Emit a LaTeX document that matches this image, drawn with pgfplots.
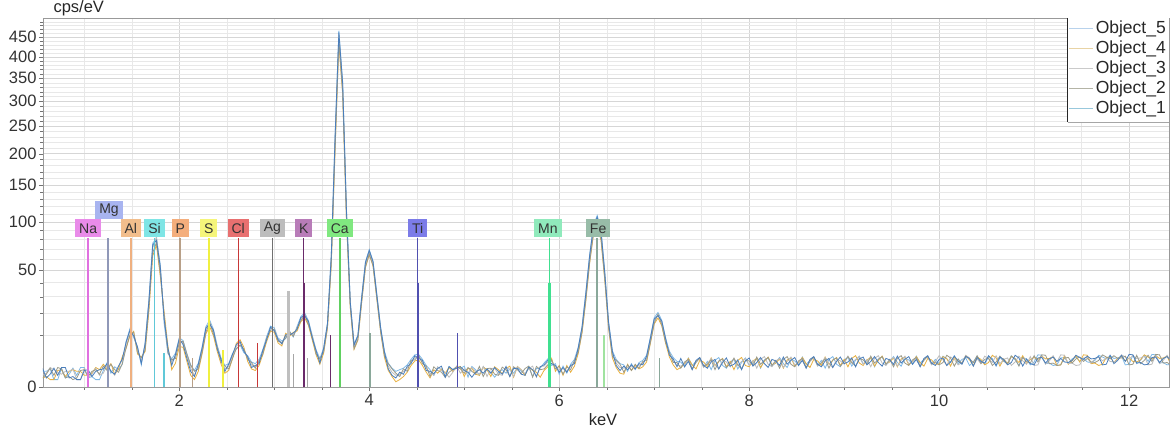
\documentclass[border=0pt]{standalone}
\usepackage{fontspec}
\setmainfont{Liberation Sans}
\usepackage{pgfplots}
\usepackage{pgfplotstable}
\pgfplotsset{compat=1.18}

\definecolor{cO1}{HTML}{4A7EBB}
\definecolor{cO2}{HTML}{9A9A8A}
\definecolor{cO3}{HTML}{BDBDBD}
\definecolor{cO4}{HTML}{E8B040}
\definecolor{cO5}{HTML}{7FB8E6}
\definecolor{lO1}{HTML}{98C8DC}
\definecolor{lO2}{HTML}{B4B4A6}
\definecolor{lO3}{HTML}{CACACA}
\definecolor{lO4}{HTML}{E8D3A4}
\definecolor{lO5}{HTML}{B8D2EC}

\definecolor{naF}{HTML}{E98BE9}\definecolor{naL}{HTML}{E070E0}
\definecolor{mgF}{HTML}{A8B4F0}\definecolor{mgL}{HTML}{9098B8}
\definecolor{alF}{HTML}{F2BE8C}\definecolor{alL}{HTML}{EFB080}
\definecolor{siF}{HTML}{7FE5E5}\definecolor{siL}{HTML}{60C8D8}
\definecolor{pF}{HTML}{F4AE7C}\definecolor{pL}{HTML}{B8A088}
\definecolor{sF}{HTML}{F5F57A}\definecolor{sL}{HTML}{F0F040}
\definecolor{clF}{HTML}{E87070}\definecolor{clL}{HTML}{C83838}
\definecolor{agF}{HTML}{BDBDBD}\definecolor{agL}{HTML}{707070}
\definecolor{kF}{HTML}{B87CB8}\definecolor{kL}{HTML}{6A2A6A}
\definecolor{caF}{HTML}{80E880}\definecolor{caL}{HTML}{60D060}
\definecolor{tiF}{HTML}{7C7CE8}\definecolor{tiL}{HTML}{5050B0}
\definecolor{mnF}{HTML}{90EABC}\definecolor{mnL}{HTML}{40E090}
\definecolor{feF}{HTML}{98BCA8}\definecolor{feL}{HTML}{8AA89A}

\tikzset{lbl/.style={anchor=south, inner xsep=4pt, inner ysep=0pt, minimum height=18pt,
    font=\fontsize{14}{14}\selectfont, text=black!80}}

\pgfplotstableread{
x o1 o2 o3 o4 o5
0.56 1.3 0.3 0.5 0.3 0.9
0.60 0.3 0.6 0.7 0.4 0.9
0.64 0.6 1.3 1.4 0.2 1.2
0.68 1.3 0.5 1.1 0.2 0.2
0.72 0.5 1.4 0.8 1.0 0.2
0.76 1.4 1.2 0.6 1.1 1.3
0.80 1.4 0.3 0.9 0.4 0.3
0.84 0.3 0.4 0.9 0.9 0.6
0.88 0.4 0.2 1.2 1.1 1.3
0.92 0.2 0.3 0.2 0.9 0.5
0.96 0.2 1.0 0.2 0.9 1.4
1.00 1.0 1.1 1.3 0.5 1.4
1.04 1.1 0.4 0.3 0.5 0.3
1.08 0.4 0.9 0.6 0.7 0.4
1.12 0.9 1.1 1.3 1.4 0.2
1.16 1.1 0.6 0.5 1.1 0.2
1.20 1.2 1.6 0.7 1.9 1.0
1.24 2.0 1.0 1.8 1.2 2.2
1.28 0.9 1.9 1.0 2.0 0.7
1.32 0.6 1.1 0.5 0.6 1.5
1.36 1.6 0.8 1.6 1.2 1.1
1.40 2.9 2.0 2.6 3.4 1.9
1.44 7.4 5.6 6.8 5.5 7.6
1.48 11.8 10.0 11.4 9.6 12.5
1.52 9.6 11.0 9.4 11.4 9.0
1.56 5.8 4.4 5.4 4.0 6.0
1.60 2.0 3.1 2.4 3.3 1.8
1.64 6.8 5.0 6.3 4.6 7.3
1.68 27 23 26 21 28
1.72 74 66 71 63 76
1.76 79 77 83 74 81
1.80 53 47 51 45 55
1.84 17 19 18 21 15
1.88 5.6 4.4 5.2 6.2 4.1
1.92 1.7 2.7 2.3 1.1 2.9
1.96 3.9 3.0 3.6 2.1 4.2
2.00 8.6 7.2 8.1 6.0 8.9
2.04 6.6 7.7 7.2 5.8 7.9
2.08 3.0 4.0 3.6 2.4 4.1
2.12 0.9 1.7 1.3 0.5 1.8
2.16 0.4 0.9 0.5 0.2 1.0
2.20 1.9 1.2 1.6 0.9 2.1
2.24 5.5 4.4 5.1 4.0 5.9
2.28 12.8 11.0 12.2 10.4 13.4
2.32 14.6 15.2 15.5 13.4 16.4
2.36 11.8 10.2 11.2 9.6 12.2
2.40 5.2 5.8 5.6 4.6 6.3
2.44 2.8 2.2 2.6 1.9 3.1
2.48 0.9 1.6 1.2 0.7 1.7
2.52 1.9 1.2 1.6 1.0 2.0
2.56 3.9 3.0 3.6 2.9 4.1
2.60 6.6 5.4 6.1 7.0 5.3
2.64 7.6 6.4 7.2 8.2 6.5
2.68 4.7 5.3 5.1 5.8 4.3
2.72 3.4 2.8 3.1 2.4 3.6
2.76 1.4 2.2 1.8 1.2 2.3
2.80 1.7 1.3 1.5 1.0 2.0
2.84 2.0 2.5 2.3 1.7 2.8
2.88 5.0 4.0 4.6 3.9 5.2
2.92 8.2 8.8 8.6 7.6 9.4
2.96 13.2 11.8 12.6 11.5 13.6
3.00 11.6 12.3 12.1 11.0 12.9
3.04 8.3 7.6 8.1 7.1 8.8
3.08 6.8 7.3 7.1 6.2 7.8
3.12 10.0 8.8 9.6 10.6 8.6
3.16 10.0 11.3 10.6 9.4 11.5
3.20 10.7 9.4 10.1 11.0 9.2
3.24 12.2 12.8 12.6 11.5 13.5
3.28 17.8 16.1 17.1 15.7 18.2
3.32 18.7 19.2 19.4 17.6 20.2
3.36 15.8 14.2 15.1 13.9 16.1
3.40 8.7 9.3 9.2 8.1 9.8
3.44 4.9 4.0 4.6 3.8 5.1
3.48 2.1 2.9 2.5 1.9 3.0
3.52 5.5 4.5 5.1 4.2 5.6
3.56 14.8 13.1 14.2 12.7 15.1
3.60 63 56 60 55 64
3.64 228 208 221 204 232
3.68 462 440 455 432 466
3.72 338 318 331 315 342
3.76 114 104 110 102 117
3.80 26.5 23.8 25.2 23.2 27
3.84 6.5 5.4 6.1 5.2 6.8
3.88 9.6 8.3 9.1 8.0 9.9
3.92 29.3 26.6 28.1 26.2 30.0
3.96 56.8 53.0 55.3 52.4 57.8
4.00 68.5 65.0 67.3 64.4 69.2
4.04 57.5 54.1 56.2 53.6 58.2
4.08 31.0 28.8 30.1 28.2 31.8
4.12 12.8 11.2 12.1 11.0 13.1
4.16 4.5 3.5 4.1 3.2 4.7
4.20 1.2 2.0 1.6 1.0 2.1
4.24 0.5 1.2 0.8 0.4 1.3
4.28 0.3 0.7 0.5 0.1 0.9
4.32 0.8 0.4 0.6 0.2 1.1
4.36 0.6 1.2 0.9 0.4 1.3
4.40 1.6 0.9 1.3 0.8 1.8
4.44 2.0 2.6 2.3 1.7 2.8
4.48 3.6 2.7 3.2 2.5 3.8
4.52 3.0 3.7 3.4 2.7 3.9
4.56 2.6 2.0 2.3 1.7 2.8
4.60 1.0 1.6 1.3 0.8 1.7
4.64 0.9 0.4 0.7 0.3 1.1
4.68 0.65 1.5 0.5 1.1 0.5
4.72 1.25 1.0 1.5 0.7 1.45
4.76 1.6 0.8 1.0 1.2 1.1
4.80 0.35 0.35 0.8 0.7 0.4
4.84 1.55 0.8 0.35 1.4 1.5
4.88 1.1 1.1 0.8 0.9 1.1
4.92 1.3 1.5 1.6 1.4 1.5
4.96 1.5 1.2 0.7 1.55 1.25
5.00 1.0 0.7 1.2 0.4 1.6
5.04 0.8 1.4 0.7 1.25 0.35
5.08 0.35 0.9 1.4 1.3 1.55
5.12 0.8 0.6 0.9 0.6 1.1
5.16 1.1 1.55 0.6 0.5 0.5
5.20 0.7 0.4 1.55 1.45 1.5
5.24 1.2 1.25 0.4 1.1 1.0
5.28 0.7 1.3 1.25 0.4 0.8
5.32 1.4 0.6 1.3 1.5 0.35
5.36 0.9 0.5 0.6 1.1 0.8
5.40 0.6 1.45 0.5 0.65 1.1
5.44 1.55 1.1 1.45 1.25 0.7
5.48 0.4 0.4 1.1 1.6 1.2
5.52 1.25 1.5 0.4 0.35 0.7
5.56 1.3 1.1 1.5 1.55 1.4
5.60 0.6 0.65 1.1 1.1 0.9
5.64 0.5 1.25 0.65 0.5 0.6
5.68 1.45 1.6 1.25 1.5 1.55
5.72 1.1 0.35 1.6 1.0 0.4
5.76 0.4 1.55 0.35 0.8 1.25
5.80 1.5 1.1 1.55 0.35 1.3
5.84 1.8 1.2 1.6 1.0 2.1
5.88 2.6 1.8 2.3 1.5 2.9
5.92 2.0 2.7 2.4 3.0 1.7
5.96 1.7 1.2 1.5 0.9 2.0
6.00 0.8 1.6 1.1 1.7 0.6
6.04 1.4 0.6 1.2 0.5 1.6
6.08 0.8 1.5 1.0 1.7 0.7
6.12 1.7 1.1 1.5 0.8 1.9
6.16 2.0 2.6 2.3 1.6 2.8
6.20 5.6 4.4 5.1 4.1 5.8
6.24 13.0 11.1 12.2 10.7 13.4
6.28 32 28 30.5 27 33
6.32 63 57 60 56 64
6.36 94 86 91 85 96
6.40 106 97 102 95 108
6.44 89 81 86 79 91
6.48 47.5 42.5 45.5 41.5 48.5
6.52 15.2 13.0 14.2 12.6 15.6
6.56 4.6 3.4 4.1 3.1 4.8
6.60 1.7 2.6 2.1 1.4 2.8
6.64 1.0 1.9 1.4 0.7 2.0
6.68 1.6 0.8 1.3 0.6 1.8
6.72 1.1 1.8 1.4 1.9 0.9
6.76 1.8 1.0 1.5 1.0 2.0
6.80 1.2 1.9 1.4 1.7 1.1
6.84 2.0 1.3 1.7 1.2 2.2
6.88 1.8 2.4 2.1 1.5 2.6
6.92 3.5 2.6 3.1 2.3 3.7
6.96 8.8 7.3 8.1 7.0 9.1
7.00 17.0 15.0 16.2 14.6 17.6
7.04 18.7 19.5 19.2 17.5 20.4
7.08 15.9 14.1 15.1 13.7 16.3
7.12 8.6 7.3 8.0 7.0 8.9
7.16 3.7 4.4 4.1 3.3 4.7
7.20 2.9 2.2 2.5 1.8 3.2
7.24 1.5 2.2 1.8 1.1 2.4
7.28 3.0 1.3 1.6 1.4 2.3
7.32 1.5 2.3 1.9 2.0 1.5
7.36 2.4 2.8 2.7 3.0 3.1
7.40 1.1 1.2 1.1 1.8 1.7
7.44 2.6 2.2 2.5 1.2 2.4
7.48 3.2 3.1 2.9 2.6 3.0
7.52 1.7 1.6 1.4 2.3 1.5
7.56 1.3 1.9 2.0 1.5 2.4
7.60 2.3 2.7 3.0 3.1 1.1
7.64 2.8 1.1 1.8 1.7 2.6
7.68 1.2 2.5 1.2 2.4 3.2
7.72 2.2 2.9 2.6 3.0 1.7
7.76 3.1 1.4 2.3 1.5 1.3
7.80 1.6 2.0 1.5 2.4 2.3
7.84 1.9 3.0 3.1 1.1 2.8
7.88 2.7 1.8 1.7 2.6 1.2
7.92 1.1 1.2 2.4 3.2 2.2
7.96 2.5 2.6 3.0 1.7 3.1
8.00 3.1 2.5 1.7 1.5 1.8
8.04 1.6 1.7 2.6 2.5 2.1
8.08 2.2 3.3 1.3 3.0 2.9
8.12 3.2 1.9 2.8 1.4 1.3
8.16 2.0 2.6 3.4 2.4 2.7
8.20 1.4 3.2 1.9 3.3 3.1
8.24 2.8 1.7 1.5 1.8 1.6
8.28 2.5 2.6 2.5 2.1 2.2
8.32 1.7 1.3 3.0 2.9 3.2
8.36 3.3 2.8 1.4 1.3 2.0
8.40 1.9 3.4 2.4 2.7 1.4
8.44 2.6 1.9 3.3 3.1 2.8
8.48 3.2 1.5 1.8 1.6 2.5
8.52 1.7 2.5 2.1 2.2 1.7
8.56 2.6 3.0 2.9 3.2 3.3
8.60 1.3 1.4 1.3 2.0 1.9
8.64 2.8 2.4 2.7 1.4 2.6
8.68 3.4 3.3 3.1 2.8 3.2
8.72 1.9 1.8 1.6 2.5 1.7
8.76 1.5 2.1 2.2 1.7 2.6
8.80 2.5 2.9 3.2 3.3 1.3
8.84 3.0 1.3 2.0 1.9 2.8
8.88 1.4 2.7 1.4 2.6 3.4
8.92 2.4 3.1 2.8 3.2 1.9
8.96 3.3 1.6 2.5 1.7 1.5
9.00 2.0 2.4 1.9 2.8 2.7
9.04 2.3 3.4 3.5 1.5 3.2
9.08 3.1 2.2 2.1 3.0 1.6
9.12 1.5 1.6 2.8 3.6 2.6
9.16 2.9 3.0 3.4 2.1 3.5
9.20 3.3 2.7 1.9 1.7 2.0
9.24 1.8 1.9 2.8 2.7 2.3
9.28 2.4 3.5 1.5 3.2 3.1
9.32 3.4 2.1 3.0 1.6 1.5
9.36 2.2 2.8 3.6 2.6 2.9
9.40 1.6 3.4 2.1 3.5 3.3
9.44 3.0 1.9 1.7 2.0 1.8
9.48 2.7 2.8 2.7 2.3 2.4
9.52 1.9 1.5 3.2 3.1 3.4
9.56 3.5 3.0 1.6 1.5 2.2
9.60 2.1 3.6 2.6 2.9 1.6
9.64 2.8 2.1 3.5 3.3 3.0
9.68 3.4 1.7 2.0 1.8 2.7
9.72 1.9 2.7 2.3 2.4 1.9
9.76 2.8 3.2 3.1 3.4 3.5
9.80 1.5 1.6 1.5 2.2 2.1
9.84 3.0 2.6 2.9 1.6 2.8
9.88 3.6 3.5 3.3 3.0 3.4
9.92 2.1 2.0 1.8 2.7 1.9
9.96 1.7 2.3 2.4 1.9 2.8
10.00 2.8 1.8 3.6 1.9 2.0
10.04 3.1 2.2 2.7 3.4 3.5
10.08 1.7 3.7 1.7 3.0 2.9
10.12 2.3 3.1 3.3 1.6 2.2
10.16 3.5 1.6 2.8 3.2 3.6
10.20 2.5 2.9 1.8 2.4 2.0
10.24 1.9 2.0 2.2 2.1 2.8
10.28 3.4 3.5 3.7 3.6 3.1
10.32 3.0 2.9 3.1 2.7 1.7
10.36 1.6 2.2 1.6 1.7 2.3
10.40 3.2 3.6 2.9 3.3 3.5
10.44 2.4 2.0 2.0 2.8 2.5
10.48 2.1 2.8 3.5 1.8 1.9
10.52 3.6 3.1 2.9 2.2 3.4
10.56 2.7 1.7 2.2 3.7 3.0
10.60 1.7 2.3 3.6 3.1 1.6
10.64 3.3 3.5 2.0 1.6 3.2
10.68 2.8 2.5 2.8 2.9 2.4
10.72 1.8 1.9 3.1 2.0 2.1
10.76 2.2 3.4 1.7 3.5 3.6
10.80 3.7 3.0 2.3 2.9 2.7
10.84 3.1 1.6 3.5 2.2 1.7
10.88 1.6 3.2 2.5 3.6 3.3
10.92 2.9 2.4 1.9 2.0 2.8
10.96 2.0 2.1 3.4 2.8 1.8
11.00 1.8 3.6 1.7 3.2 2.3
11.04 3.1 2.3 1.8 2.8 3.8
11.08 3.2 3.8 3.6 3.5 3.7
11.12 2.1 3.7 1.9 2.9 2.0
11.16 2.9 2.0 2.5 3.0 2.1
11.20 3.3 2.1 3.6 3.4 1.7
11.24 2.4 1.7 2.3 1.7 1.8
11.28 3.0 1.8 3.8 1.8 3.1
11.32 2.3 3.1 3.7 3.6 3.2
11.36 2.2 3.2 2.0 1.9 2.1
11.40 2.6 2.1 2.1 2.5 2.9
11.44 3.7 2.9 1.7 3.6 3.3
11.48 3.2 3.3 1.8 2.3 2.4
11.52 2.8 2.4 3.1 3.8 3.0
11.56 3.5 3.0 3.2 3.7 2.3
11.60 2.9 2.3 2.1 2.0 2.2
11.64 3.0 2.2 2.9 2.1 2.6
11.68 3.4 2.6 3.3 1.7 3.7
11.72 1.8 3.8 2.5 1.9 3.3
11.76 1.9 3.3 3.1 3.2 2.9
11.80 3.7 2.9 2.4 3.3 3.6
11.84 2.0 3.6 2.3 2.2 3.0
11.88 2.6 3.0 2.7 3.0 3.1
11.92 3.7 3.1 3.8 3.4 3.5
11.96 2.4 3.5 3.3 2.5 1.8
12.00 3.9 1.8 2.9 3.1 1.9
12.04 3.8 1.9 3.6 2.4 3.7
12.08 2.1 3.7 3.0 2.3 2.0
12.12 2.2 2.0 3.1 2.7 2.6
12.16 1.8 2.6 3.5 3.8 3.7
12.20 1.9 3.7 1.8 3.3 2.4
12.24 3.2 2.4 1.9 2.9 3.9
12.28 3.3 3.9 3.7 3.6 3.8
12.32 2.2 3.8 2.0 3.0 2.1
12.36 3.0 2.1 2.6 3.1 2.2
12.40 3.4 2.2 3.7 3.5 1.8
12.44 2.5 1.8 2.4 1.8 1.9
}\spec

\begin{document}
\begin{tikzpicture}
\begin{axis}[
  at={(0pt,0pt)}, anchor=south west,
  scale only axis, width=1126pt, height=369pt,
  xmin=0.565, xmax=12.42, ymin=0, ymax=500,
  y coord trafo/.code={\pgfmathparse{sqrt(#1)}},
  y coord inv trafo/.code={\pgfmathparse{(#1)^2}},
  ytick={0,50,100,150,200,250,300,350,400,450},
  yticklabels={0,50,100,150,200,250,300,350,400,450},
  minor ytick={10,20,...,490},
  xtick={2,4,6,8,10,12},
  xticklabels={2,4,6,8,10,12},
  minor xtick={0.5,1,...,12.5},
  grid=both,
  major grid style={color=black!16},
  minor grid style={color=black!9},
  tick align=outside, tick pos=left,
  major tick length=4pt, minor tick length=2.5pt,
  tick style={color=black!55},
  axis line style={color=black!40},
  ticklabel style={font=\fontsize{16.5}{18}\selectfont, text=black!80},
  yticklabel style={xshift=1pt},
  /pgf/number format/assume math mode=true,
  legend style={at={(1,1)}, anchor=north east, draw=none, fill=none,
    font=\fontsize{17.5}{18}\selectfont, text=black!85, row sep=1.8pt,
    inner xsep=1pt, inner ysep=1pt, cells={anchor=west}},
  legend image code/.code={\draw[#1] (-2pt,0pt) -- (22pt,0pt);},
]
% legend box
\fill[white] (rel axis cs:0.9103,0.718) rectangle (rel axis cs:1,1);
\draw[black!85, line width=1pt] (rel axis cs:0.9103,0.718) -- (rel axis cs:0.9103,1);
\draw[black!35] (rel axis cs:0.9103,0.718) -- (rel axis cs:1,0.718);

% spectra
\addplot[forget plot, cO5, line width=0.8pt] table[x=x,y=o5]{\spec};
\addplot[forget plot, cO4, line width=0.8pt] table[x=x,y=o4]{\spec};
\addplot[forget plot, cO3, line width=0.8pt] table[x=x,y=o3]{\spec};
\addplot[forget plot, cO2, line width=0.8pt] table[x=x,y=o2]{\spec};
\addplot[forget plot, cO1, line width=0.8pt] table[x=x,y=o1]{\spec};

% secondary lines
\addplot[forget plot, siL, line width=1.5pt] coordinates {(1.84,0) (1.84,4.2)};
\addplot[forget plot, pL, line width=1.5pt] coordinates {(2.14,0) (2.14,3)};
\addplot[forget plot, sL, line width=1.5pt] coordinates {(2.46,0) (2.46,5)};
\addplot[forget plot, clL, line width=1pt] coordinates {(2.82,0) (2.82,7)};
\addplot[forget plot, black!25, line width=2.5pt] coordinates {(3.15,0) (3.15,34)};
\addplot[forget plot, black!35, line width=1.5pt] coordinates {(3.20,0) (3.20,4)};
\addplot[forget plot, black!35, line width=1.5pt] coordinates {(3.35,0) (3.35,3)};
\addplot[forget plot, kL, line width=1.5pt] coordinates {(3.59,0) (3.59,10)};
\addplot[forget plot, feL, line width=1.5pt] coordinates {(4.01,0) (4.01,10.7)};
\addplot[forget plot, tiL, line width=1.2pt] coordinates {(4.93,0) (4.93,10.7)};
\addplot[forget plot, caL!60, line width=1.5pt] coordinates {(6.47,0) (6.47,10)};
\addplot[forget plot, feL, line width=1.2pt] coordinates {(7.06,0) (7.06,3)};

% element marker lines
\addplot[forget plot, naL, line width=1.5pt] coordinates {(1.04,0) (1.04,82)};
\addplot[forget plot, mgL, line width=1.5pt] coordinates {(1.25,0) (1.25,82)};
\addplot[forget plot, alL, line width=1.5pt] coordinates {(1.49,0) (1.49,82)};
\addplot[forget plot, siL, line width=1.5pt] coordinates {(1.74,0) (1.74,82)};
\addplot[forget plot, pL, line width=1.5pt] coordinates {(2.01,0) (2.01,82)};
\addplot[forget plot, sL, line width=2pt] coordinates {(2.31,0) (2.31,82)};
\addplot[forget plot, clL, line width=1.2pt] coordinates {(2.62,0) (2.62,82)};
\addplot[forget plot, agL, line width=1.5pt] coordinates {(2.98,0) (2.98,82)};
\addplot[forget plot, kL, line width=1.2pt] coordinates {(3.31,0) (3.31,82)};
\addplot[forget plot, kL, line width=1.8pt] coordinates {(3.31,0) (3.31,40)};
\addplot[forget plot, caL, line width=1.5pt] coordinates {(3.69,0) (3.69,82)};
\addplot[forget plot, tiL, line width=1.2pt] coordinates {(4.51,0) (4.51,82)};
\addplot[forget plot, tiL, line width=1.8pt] coordinates {(4.51,0) (4.51,40)};
\addplot[forget plot, mnL, line width=1.5pt] coordinates {(5.90,0) (5.90,82)};
\addplot[forget plot, mnL, line width=2.5pt] coordinates {(5.90,0) (5.90,40)};
\addplot[forget plot, feL, line width=2.5pt] coordinates {(6.40,0) (6.40,82)};

% element labels
\node[lbl, fill=naF] at (axis cs:1.04,82) {Na};
\node[lbl, fill=mgF] at (axis cs:1.26,103) {Mg};
\node[lbl, fill=alF] at (axis cs:1.49,82) {Al};
\node[lbl, fill=siF] at (axis cs:1.74,82) {Si};
\node[lbl, fill=pF] at (axis cs:2.01,82) {P};
\node[lbl, fill=sF] at (axis cs:2.31,82) {S};
\node[lbl, fill=clF] at (axis cs:2.62,82) {Cl};
\node[lbl, fill=agF] at (axis cs:2.98,82) {Ag};
\node[lbl, fill=kF] at (axis cs:3.31,82) {K};
\node[lbl, fill=caF] at (axis cs:3.69,82) {Ca};
\node[lbl, fill=tiF] at (axis cs:4.51,82) {Ti};
\node[lbl, fill=mnF] at (axis cs:5.88,82) {Mn};
\node[lbl, fill=feF] at (axis cs:6.41,82) {Fe};

% legend
\addlegendimage{lO5, line width=1.2pt}\addlegendentry{Object\_5}
\addlegendimage{lO4, line width=1.2pt}\addlegendentry{Object\_4}
\addlegendimage{lO3, line width=1.2pt}\addlegendentry{Object\_3}
\addlegendimage{lO2, line width=1.2pt}\addlegendentry{Object\_2}
\addlegendimage{lO1, line width=1.2pt}\addlegendentry{Object\_1}
\end{axis}
\node[anchor=base west, font=\fontsize{16.5}{18}\selectfont, text=black!85] at (7pt,374pt) {cps/eV};
\node[font=\fontsize{16.5}{18}\selectfont, text=black!85] at (560pt,-33pt) {keV};
\pgfresetboundingbox
\path[use as bounding box] (-43pt,-45pt) rectangle (1128pt,387pt);
\end{tikzpicture}
\end{document}
